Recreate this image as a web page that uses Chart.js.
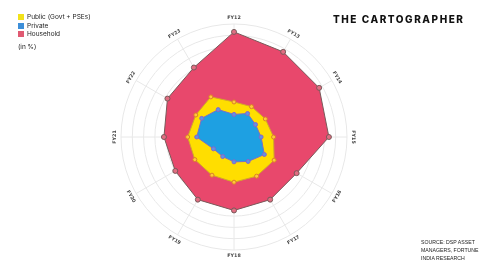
<!DOCTYPE html>
<html>
<head>
<meta charset="utf-8">
<script src="https://cdn.jsdelivr.net/npm/chart.js@4/dist/chart.umd.min.js"></script>
<style>
  body { margin: 0; background: #fff; font-family: "Inter", "DejaVu Sans", sans-serif; }
  #wrap { position: relative; width: 480px; height: 270px; overflow: hidden; }
  canvas { position: absolute; left: 0; top: 0; }
  .legend { position: absolute; left: 18px; top: 13px; font-size: 6.5px; color: #222; }
  .legend div { display: flex; align-items: center; height: 8.5px; }
  .legend span.sw { display: inline-block; width: 6px; height: 6px; margin-right: 3px; }
  .unit { position: absolute; left: 18px; top: 43px; font-size: 6.5px; color: #222; }
  .title { position: absolute; left: 333px; top: 13px; font-size: 10px; font-weight: 800; letter-spacing: 1.55px; color: #111; white-space: nowrap; }
  .source { position: absolute; left: 421px; top: 238px; font-family: "Liberation Sans", sans-serif; font-size: 5.2px; line-height: 8px; color: #222; white-space: nowrap; }
</style>
</head>
<body>
<div id="wrap">
  <canvas id="radar" width="480" height="270"></canvas>
  <div class="legend">
    <div><span class="sw" style="background:#f2e21a"></span>Public (Govt + PSEs)</div>
    <div><span class="sw" style="background:#3d8fd9"></span>Private</div>
    <div><span class="sw" style="background:#e05a72"></span>Household</div>
  </div>
  <div class="unit">(in %)</div>
  <div class="title">THE CARTOGRAPHER</div>
  <div class="source">SOURCE: DSP ASSET<br>MANAGERS, FORTUNE<br>INDIA RESEARCH</div>
</div>
<script>
let years = ["FY12", "FY13", "FY14", "FY15", "FY16", "FY17", "FY18", "FY19", "FY20", "FY21", "FY22", "FY23"];

// values
let publicShare = [31, 31, 32, 35, 41, 40, 40, 39, 40, 41, 39, 41];
let privateShare = [20, 24, 22, 24, 31, 25, 22, 20, 21, 33, 33, 28];
let householdShare = [93, 87, 87, 84, 64, 64, 65, 64, 60, 62, 68, 71];

// tangent labels round the rim, Chart.js can't rotate point labels itself
let rimLabels = {
    id: 'rimLabels',
    afterDraw(chart) {
        let scale = chart.scales.r;
        let ctx = chart.ctx;
        ctx.save();
        ctx.font = '600 4.8px "DejaVu Sans", sans-serif';
        ctx.fillStyle = '#444';
        ctx.textAlign = 'center';
        ctx.textBaseline = 'middle';
        for (let i = 0; i < years.length; i++) {
            let p = scale.getPointPosition(i, scale.drawingArea + 6);
            let deg = i * 360 / years.length;
            if (deg > 90 && deg < 270) deg -= 180;
            ctx.save();
            ctx.translate(p.x, p.y);
            ctx.rotate(deg * Math.PI / 180);
            ctx.fillText(years[i], 0, 0);
            ctx.restore();
        }
        ctx.restore();
    }
};

let radarChart = new Chart(document.getElementById("radar").getContext('2d'), {
    type: 'radar',
    data: {
        labels: years,
        datasets: [
            {
                label: 'Private',
                data: privateShare,
                backgroundColor: 'rgb(30, 160, 226)',
                borderColor: 'rgb(120, 110, 200)',
                borderWidth: 1,
                pointBackgroundColor: 'rgb(90, 150, 230)',
                pointBorderColor: 'rgb(140, 100, 200)',
                pointRadius: 2,
                fill: true
            },
            {
                label: 'Public (Govt + PSEs)',
                data: publicShare,
                backgroundColor: 'rgb(255, 222, 0)',
                borderColor: 'rgb(210, 170, 40)',
                borderWidth: 1,
                pointBackgroundColor: 'rgb(255, 200, 60)',
                pointBorderColor: 'rgb(220, 130, 40)',
                pointRadius: 2,
                fill: true
            },
            {
                label: 'Household',
                data: householdShare,
                backgroundColor: 'rgb(232, 72, 108)',
                borderColor: 'rgb(120, 90, 90)',
                borderWidth: 1,
                pointBackgroundColor: 'rgb(225, 110, 130)',
                pointBorderColor: 'rgb(120, 90, 90)',
                pointRadius: 2.5,
                fill: true
            }
        ]
    },
    options: {
        responsive: false,
        animation: false,
        layout: {
            padding: { left: 121, right: 133, top: 24, bottom: 20 }
        },
        plugins: {
            legend: { display: false },
            tooltip: { enabled: false }
        },
        scales: {
            r: {
                min: 0,
                max: 100,
                ticks: { display: false, stepSize: 10 },
                grid: { circular: true, color: '#e8e8e8', lineWidth: 1 },
                angleLines: { color: '#e8e8e8' },
                pointLabels: { display: false }
            }
        }
    },
    plugins: [rimLabels]
});
</script>
</body>
</html>
